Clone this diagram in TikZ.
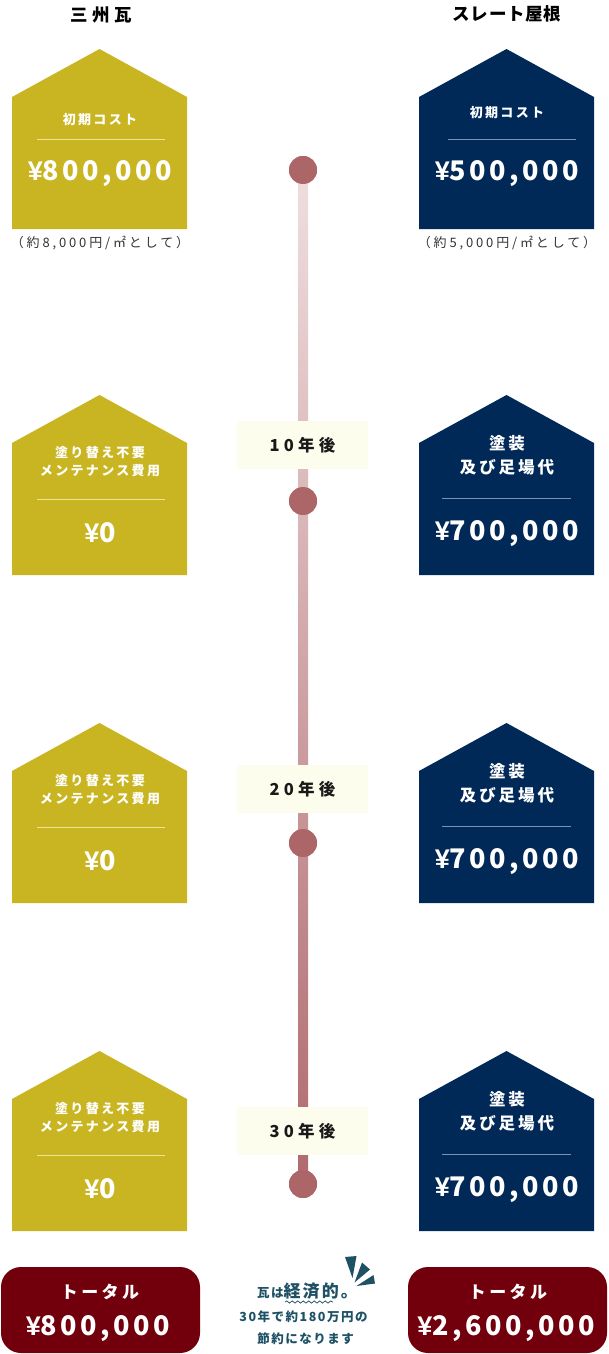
\documentclass[tikz,border=0pt]{standalone}
\usepackage{fontspec}
\setmainfont{Noto Sans CJK JP}
\newfontfamily\yenf{Liberation Sans}
\usetikzlibrary{decorations.pathmorphing}
\definecolor{olive}{HTML}{C9B521}
\definecolor{olivediv}{HTML}{EDE29A}
\definecolor{navy}{HTML}{002958}
\definecolor{navydiv}{HTML}{7F92B4}
\definecolor{totalred}{HTML}{72000C}
\definecolor{tealtxt}{HTML}{1E5066}
\definecolor{labelfill}{HTML}{FDFDEE}
\definecolor{dotc}{HTML}{AD6668}
\definecolor{linetop}{HTML}{EFDEDF}
\definecolor{linebot}{HTML}{B06A6E}
\definecolor{notec}{HTML}{333333}
\newcommand{\ls}[1]{\addfontfeatures{LetterSpace=#1}}
\newcommand{\Y}{{\yenf\bfseries\ls{13}¥}}
\tikzset{
  housetxt/.style={text=white, font=\bfseries\fontsize{13}{18}\selectfont\ls{18}, align=center, inner sep=0pt},
  housetxtbig/.style={text=white, font=\bfseries\fontsize{16.5}{24}\selectfont\ls{18}, align=center, inner sep=0pt},
  valtxt/.style={text=white, font=\bfseries\fontsize{27}{30}\selectfont\ls{13}, inner sep=0pt, anchor=base},
  subtxt/.style={text=white, font=\bfseries\fontsize{17}{20}\selectfont\ls{20}, inner sep=0pt},
  headtxt/.style={text=black, font=\bfseries\fontsize{17.5}{20}\selectfont, inner sep=0pt},
  notetxt/.style={text=notec, font=\fontsize{13}{15}\selectfont\ls{22}, inner sep=0pt},
  yearbox/.style={fill=labelfill, minimum width=131pt, minimum height=48pt, inner sep=0pt,
    text=black!90, font=\bfseries\fontsize{16.5}{18}\selectfont\ls{26}},
  tdot/.style={circle, fill=dotc, minimum size=28pt, inner sep=0pt},
  totalbox/.style={fill=totalred, rounded corners=20pt},
  centertxt/.style={text=tealtxt, font=\bfseries\fontsize{12.5}{15}\selectfont\ls{12}, inner sep=0pt},
}
\begin{document}
\begin{tikzpicture}[x=1pt,y=-1pt]
\useasboundingbox (0,0) rectangle (608,1354);
\fill[white] (0,0) rectangle (608,1354);

% headers
\node[headtxt, font=\bfseries\fontsize{17.5}{20}\selectfont\ls{25}] (h1) at (101,15) {三州瓦};
\node[headtxt, font=\bfseries\fontsize{17.5}{20}\selectfont\ls{4}] (h2) at (507,14) {スレート屋根};

% timeline
\node[tdot] (d1) at (303,170) {};
\node[tdot] (d2) at (303,501) {};
\node[tdot] (d3) at (303,843) {};
\node[tdot] (d4) at (303,1184) {};
\shade[top color=linetop, bottom color=linebot] (298,170) rectangle (308,1184);
\foreach \d in {d1,d2,d3,d4} \fill[dotc] (\d) circle (14pt);
\node[yearbox] (y1) at (302.5,445) {10年後};
\node[yearbox] (y2) at (302.5,789) {20年後};
\node[yearbox] (y3) at (302.5,1131) {30年後};

% left houses
\foreach \t in {49,395,723,1051} {
  \fill[olive] (12,\t+48) -- (99.5,\t) -- (187,\t+48) -- (187,\t+180) -- (12,\t+180) -- cycle;
}
% right houses
\foreach \t in {49,395,723,1051} {
  \fill[navy] (419,\t+48) -- (506.5,\t) -- (594,\t+48) -- (594,\t+180) -- (419,\t+180) -- cycle;
}

% house 1 left
\node[housetxt] (l1a) at (100,120) {初期コスト};
\draw[olivediv, line width=0.8pt] (37,139) -- (165,139);
\node[valtxt] (l1v) at (100,180) {\Y800,000};
\node[notetxt] (l1n) at (100,243) {（約8,000円/㎡として）};
% house 1 right
\node[housetxt] (r1a) at (507,113) {初期コスト};
\draw[navydiv, line width=0.8pt] (448,139) -- (576,139);
\node[valtxt] (r1v) at (507,180) {\Y500,000};
\node[notetxt] (r1n) at (507,243) {（約5,000円/㎡として）};

% left houses 2-4
\foreach \t/\n in {395/2,723/3,1051/4} {
  \node[housetxt] (l\n a) at (100,\t+58) {塗り替え不要};
  \node[housetxt] (l\n b) at (100,\t+76) {メンテナンス費用};
  \draw[olivediv, line width=0.8pt] (37,\t+104) -- (165,\t+104);
  \node[valtxt] (l\n v) at (100,\t+147) {\Y0};
}
% right houses 2-4
\foreach \t/\n in {395/2,723/3,1051/4} {
  \node[housetxtbig] (r\n a) at (507,\t+48) {塗装};
  \node[housetxtbig] (r\n b) at (507,\t+72) {及び足場代};
  \draw[navydiv, line width=0.8pt] (442,\t+103) -- (571,\t+103);
  \node[valtxt] (r\n v) at (507,\t+145) {\Y700,000};
}

% totals
\fill[totalbox] (1,1267) rectangle (200,1353);
\fill[totalbox] (408,1267) rectangle (607,1353);
\node[subtxt] (t1a) at (100,1292) {トータル};
\node[valtxt] (t1v) at (98,1335) {\Y800,000};
\node[subtxt] (t2a) at (508,1292) {トータル};
\node[valtxt] (t2v) at (506,1335) {\Y2,600,000};

% center message
\node[centertxt, anchor=base west] (c1) at (257,1297) {瓦は{\fontsize{17}{20}\selectfont 経済的。}};
\draw[tealtxt, line width=0.7pt, decorate, decoration={snake, amplitude=1.1pt, segment length=5.5pt}] (285,1302) -- (333,1302);
\node[centertxt] (c2) at (303.5,1317) {30年で約180万円の};
\node[centertxt] (c3) at (305.5,1339) {節約になります};
\fill[tealtxt] (345,1257) -- (356.5,1256) -- (352.5,1278) -- cycle;
\fill[tealtxt] (362,1262.5) -- (370,1269.5) -- (354.5,1282.5) -- cycle;
\fill[tealtxt] (373.5,1275) -- (375,1283.5) -- (356.5,1286) -- cycle;
\end{tikzpicture}
\end{document}
